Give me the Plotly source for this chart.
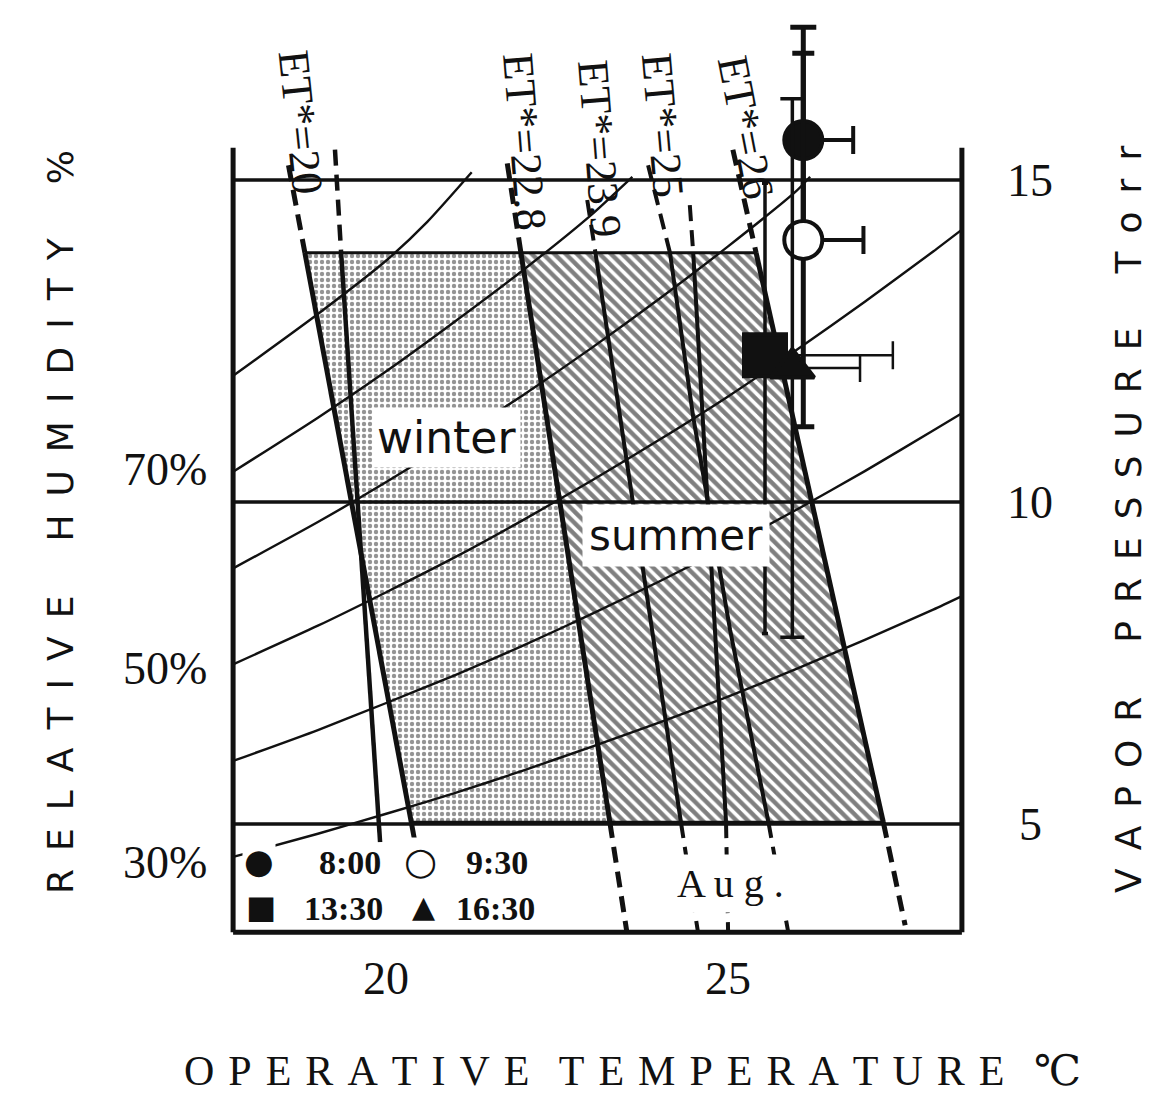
import plotly.graph_objects as go

# ---------------- data ----------------
x_ticks = [20, 25]                     # operative temperature (deg C)
vp_ticks = [5, 10, 15]                 # vapour pressure (Torr)
rh_tick_text = ["70%", "50%", "30%"]
rh_tick_vp = [10.50, 7.42, 4.41]

# relative-humidity curves (vapour pressure)
rh_T = [17.76, 19, 20, 21, 22, 23, 24, 25, 26, 27, 28, 28.42]
rh30_vp = [4.49, 4.85, 5.16, 5.48, 5.83, 6.20, 6.58, 6.98, 7.41, 7.86, 8.33, 8.54]
rh40_vp = [5.98, 6.46, 6.88, 7.31, 7.77, 8.26, 8.77, 9.31, 9.88, 10.48, 11.11, 11.38]
rh50_vp = [7.48, 8.08, 8.60, 9.14, 9.72, 10.33, 10.97, 11.64, 12.36, 13.11, 13.89, 14.23]
rh60_T = [17.76, 19, 20, 21, 22, 23, 24, 25, 26, 26.2]
rh60_vp = [8.97, 9.69, 10.31, 10.97, 11.66, 12.39, 13.16, 13.97, 14.83, 15.05]
rh70_T = [17.76, 19, 20, 21, 22, 23, 23.6]
rh70_vp = [10.47, 11.31, 12.03, 12.80, 13.60, 14.46, 15.05]
rh80_T = [17.76, 19, 20, 20.6, 21.25]
rh80_vp = [11.96, 12.92, 13.75, 14.35, 15.12]

# ET* lines
et_names = ["ET*=20", "ET*=22.8", "ET*=23.9", "ET*=25", "ET*=26"]
et20a_T = [18.57, 18.81, 20.42]
et20a_vp = [15.23, 13.87, 4.72]
et20b_T = [19.25, 19.34, 19.91]
et20b_vp = [15.47, 13.87, 4.72]
et228_T = [21.77, 21.97, 23.27, 23.52]
et228_vp = [15.26, 13.87, 5.03, 3.32]
et239_T = [22.94, 23.06, 24.31, 24.56]
et239_vp = [14.69, 13.87, 5.03, 3.32]
et25a_T = [23.83, 24.15, 24.49, 25.03, 25.59, 25.88]
et25a_vp = [15.23, 13.87, 11.32, 8.01, 5.03, 3.32]
et25b_T = [24.44, 24.49, 24.97, 25.00]
et25b_vp = [14.61, 13.87, 5.03, 3.32]
et26_T = [25.07, 25.41, 27.27, 27.59]
et26_vp = [15.47, 13.87, 5.03, 3.43]

# comfort zones
winter_T = [18.81, 21.97, 23.27, 20.36]
winter_vp = [13.87, 13.87, 5.03, 5.03]
summer_T = [21.97, 25.41, 27.27, 23.27]
summer_vp = [13.87, 13.87, 5.03, 5.03]

# August measurements (horizontal bars only to the right)
aug_times = ["8:00", "9:30", "13:30", "16:30"]
aug_T = [26.10, 26.10, 25.54, 25.94]
aug_vp = [15.62, 14.07, 12.28, 12.08]
aug_T_sd = [0.73, 0.88, 1.87, 0.99]
aug_vp_up = [1.75, 2.90, 2.67, 4.18]
aug_vp_down = [1.75, 2.90, 4.32, 4.18]

# frame
frame_T = [17.76, 28.42]
frame_vp = [3.32, 15.50]
zone_top_vp = 13.87
zone_bottom_vp = 5.03

# ---------------- figure ----------------
INK = "#111111"
SERIF = "Liberation Serif, DejaVu Serif, serif"
SANS = "DejaVu Sans, Liberation Sans, sans-serif"

fig = go.Figure()

fig.add_trace(go.Scatter(
    x=winter_T, y=winter_vp, mode="lines", fill="toself", fillcolor="white",
    fillpattern=dict(shape=".", fgcolor="#2a2a2a", bgcolor="white", size=6, solidity=0.42),
    line=dict(color=INK, width=3), hoverinfo="skip", showlegend=False))
fig.add_trace(go.Scatter(
    x=summer_T, y=summer_vp, mode="lines", fill="toself", fillcolor="white",
    fillpattern=dict(shape="\\", fgcolor="#000000", bgcolor="white", size=8, solidity=0.55),
    line=dict(color=INK, width=3), hoverinfo="skip", showlegend=False))

for T, vp in [(rh_T, rh30_vp), (rh_T, rh40_vp), (rh_T, rh50_vp),
              (rh60_T, rh60_vp), (rh70_T, rh70_vp), (rh80_T, rh80_vp)]:
    fig.add_trace(go.Scatter(x=T, y=vp, mode="lines",
                             line=dict(color=INK, width=2.4, shape="spline", smoothing=0.6),
                             hoverinfo="skip", showlegend=False))


def add_et(T, vp, width):
    groups = []
    for i in range(len(T) - 1):
        lo, hi = min(vp[i], vp[i + 1]), max(vp[i], vp[i + 1])
        dashed = lo >= zone_top_vp - 1e-6 or hi <= zone_bottom_vp + 1e-6
        if groups and groups[-1][0] == dashed:
            groups[-1][1].append(i + 1)
        else:
            groups.append((dashed, [i, i + 1]))
    for dashed, idx in groups:
        fig.add_trace(go.Scatter(
            x=[T[k] for k in idx], y=[vp[k] for k in idx], mode="lines",
            line=dict(color=INK, width=width, dash="16px,9px" if dashed else "solid"),
            hoverinfo="skip", showlegend=False))


for T, vp, w in [(et20a_T, et20a_vp, 5), (et20b_T, et20b_vp, 4.5),
                 (et228_T, et228_vp, 5), (et239_T, et239_vp, 4),
                 (et25a_T, et25a_vp, 4), (et25b_T, et25b_vp, 4),
                 (et26_T, et26_vp, 5)]:
    add_et(T, vp, w)

# measured points, one trace each (own bar style)
point_style = [
    dict(symbol="circle", color=INK, size=38, thick=5, cap=13),
    dict(symbol="circle", color="white", size=38, thick=5, cap=11),
    dict(symbol="square", color=INK, size=42, thick=3.5, cap=3),
    dict(symbol="triangle-up", color=INK, size=38, thick=3.5, cap=12),
]
for i, st in enumerate(point_style):
    fig.add_trace(go.Scatter(
        x=[aug_T[i]], y=[aug_vp[i]], mode="markers", text=[aug_times[i]],
        marker=dict(symbol=st["symbol"], color=st["color"], size=st["size"], opacity=1,
                    line=dict(color=INK, width=4)),
        error_x=dict(type="data", symmetric=False, array=[aug_T_sd[i]], arrayminus=[0],
                     color=INK, thickness=st["thick"] - 1, width=14),
        error_y=dict(type="data", symmetric=False, array=[aug_vp_up[i]],
                     arrayminus=[aug_vp_down[i]], color=INK, thickness=st["thick"],
                     width=st["cap"]),
        cliponaxis=False, showlegend=False))

# frame lines
shapes = []
for t in frame_T:
    shapes.append(dict(type="line", xref="x", yref="y", x0=t, x1=t,
                       y0=frame_vp[0], y1=frame_vp[1], line=dict(color=INK, width=5)))
shapes.append(dict(type="line", xref="x", yref="y", x0=frame_T[0], x1=frame_T[1],
                   y0=frame_vp[0], y1=frame_vp[0], line=dict(color=INK, width=5)))
for v in vp_ticks:
    shapes.append(dict(type="line", xref="x", yref="y", x0=frame_T[0], x1=frame_T[1],
                       y0=v, y1=v, line=dict(color=INK, width=3.5)))

# ---------------- text ----------------
def xp(p):
    return (p - 229) / 737.0


def yp(p):
    return (940 - p) / 921.0


def spaced(words, sep, wsep):
    return wsep.join(sep.join(w) for w in words)


ann = []


def add_text(text, x, y, size, family=SERIF, xref="paper", yref="paper", angle=0,
             bg=None, weight="normal", pad=1):
    d = dict(text=text, x=x, y=y, xref=xref, yref=yref, showarrow=False,
             textangle=angle, xanchor="center", yanchor="middle", borderpad=pad,
             font=dict(family=family, size=size, color=INK, weight=weight))
    if bg:
        d["bgcolor"] = bg
    ann.append(d)


for t in x_ticks:
    add_text(str(t), t, yp(978), 46, xref="x")
for v in vp_ticks:
    add_text(str(v), xp(1030), v, 46, yref="y")
for txt, v in zip(rh_tick_text, rh_tick_vp):
    add_text(txt, xp(165), v, 46, yref="y")

et_pos = [(301, 122, 84), (524, 142, 85.5), (599, 149, 85.5), (663, 125, 85), (746, 127, 79)]
for name, (x, y, a) in zip(et_names, et_pos):
    add_text(name, xp(x), yp(y), 44, angle=a)

add_text("winter", xp(446), yp(437), 44, family=SANS, bg="white", pad=4)
add_text("summer", xp(676), yp(535), 42, family=SANS, bg="white", pad=6)
add_text("A u g .", xp(730), yp(883), 40, bg="white", pad=6)

# legend (2 x 2)
add_text("●", xp(259), yp(861), 34, family=SANS, bg="white")
add_text("○", xp(420), yp(861), 38, family=SANS, weight="bold", bg="white")
add_text("■", xp(261), yp(907), 32, family=SANS, bg="white")
add_text("▲", xp(423), yp(906), 30, family=SANS, bg="white")
add_text(aug_times[0], xp(350), yp(862), 34, weight="bold", bg="white")
add_text(aug_times[1], xp(497), yp(862), 34, weight="bold", bg="white")
add_text(aug_times[2], xp(343), yp(908), 34, weight="bold", bg="white")
add_text(aug_times[3], xp(495), yp(908), 34, weight="bold", bg="white")

# axis titles
add_text(spaced(["OPERATIVE", "TEMPERATURE", "℃"], "\u2004", "\u2002\u2009"),
         xp(632), yp(1071), 42, pad=0)
add_text(spaced(["RELATIVE", "HUMIDITY", "%"], "\u2002", "\u2003\u2002"),
         xp(60), yp(522), 36, family=SANS, angle=-90)
add_text(spaced(["VAPOR", "PRESSURE", "Torr"], "\u2002", "\u2003\u2002"),
         xp(1128), yp(520), 36, family=SANS, angle=-90)

fig.update_layout(
    width=1166, height=1098,
    margin=dict(l=229, r=200, t=19, b=158),
    paper_bgcolor="white", plot_bgcolor="white",
    xaxis=dict(range=[17.70, 28.48], visible=False, fixedrange=True),
    yaxis=dict(range=[3.20, 17.50], visible=False, fixedrange=True),
    shapes=shapes, annotations=ann, showlegend=False,
)

fig.write_html("out.html", config={"displayModeBar": False})
